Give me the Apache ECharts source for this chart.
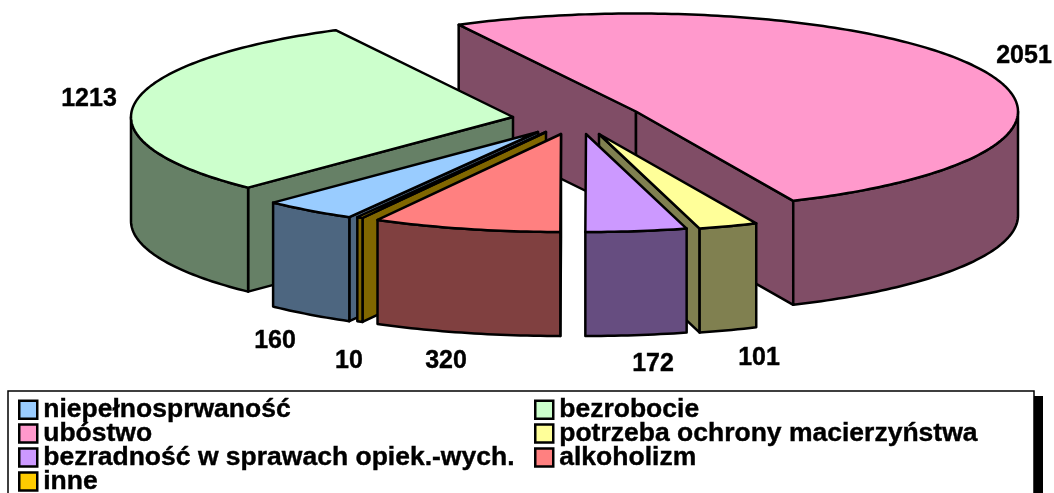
<!DOCTYPE html>
<html>
<head>
<meta charset="utf-8">
<style>html,body{margin:0;padding:0;background:#fff}#chart{width:1054px;height:493px}</style>
<script src="https://cdn.jsdelivr.net/npm/echarts@6/dist/echarts.min.js"></script>
</head>
<body>
<div id="chart"></div>
<script>
// kolejnosc jak w legendzie (zgodnie z ruchem wskazowek)
const categories = ['niepełnosprwaność', 'bezrobocie', 'ubóstwo', 'potrzeba ochrony macierzyństwa', 'bezradność w sprawach opiek.-wych.', 'alkoholizm', 'inne'];
const values = [160, 1213, 2051, 101, 172, 320, 10];
const topColors = ['#99ccff', '#ccffcc', '#ff99cc', '#ffff99', '#cc99ff', '#ff8080', '#ffcc00'];
const sideColors = ['#4d6680', '#668066', '#804d66', '#808050', '#664d80', '#804040', '#806600'];
// wierzcholek kazdego wycinka po rozsunieciu
const tips = [[538, 132], [513, 117], [636, 111.5], [599, 134], [586, 134], [561, 134], [546, 132]];
const labelPos = [[275, 341], [89, 99], [1024, 56], [759, 358], [653, 364], [446, 361], [349, 361]];
const drawOrder = [2, 1, 3, 0, 6, 4, 5];

const RX = 382, RY = 98, DEPTH = 104;
const START_DEG = 209.6; // tu zaczyna sie pierwszy wycinek

const total = values.reduce((a, b) => a + b, 0);
function sliceAngles(idx) {
    let a = START_DEG;
    for (let i = 0; i < idx; i++) a += values[i] / total * 360;
    let b = a + values[idx] / total * 360;
    return b > 360 ? [a - 360, b - 360] : [a, b];
}
function sinDeg(d) { return Math.sin(d * Math.PI / 180); }
function pt(tip, deg, dy) {
    let r = deg * Math.PI / 180;
    return [tip[0] + RX * Math.sin(r), tip[1] - RY * Math.cos(r) + (dy || 0)];
}
const outline = { stroke: '#000', lineWidth: 2.5, lineJoin: 'round' };

function face(points, fill) {
    return { type: 'polygon', shape: { points: points }, style: Object.assign({ fill: fill }, outline) };
}

function renderSlice(idx) {
    return function () {
        let ang = sliceAngles(idx), tip = tips[idx], children = [];
        let side = sideColors[idx];
        let a1 = pt(tip, ang[1]);
        // sciany przekroju - tylko te widoczne od przodu
        if (sinDeg(ang[0]) < 0) {
            children.push(face([tip, pt(tip, ang[0]), pt(tip, ang[0], DEPTH), [tip[0], tip[1] + DEPTH]], side));
        }
        if (sinDeg(ang[1]) > 0) {
            children.push(face([tip, a1, pt(tip, ang[1], DEPTH), [tip[0], tip[1] + DEPTH]], side));
        }
        // zewnetrzna sciana - przednia czesc luku
        let from = Math.max(ang[0], 90), to = Math.min(ang[1], 270);
        if (to > from) {
            let up = [], down = [];
            for (let d = from; d < to; d += 1) { up.push(pt(tip, d)); down.unshift(pt(tip, d, DEPTH)); }
            up.push(pt(tip, to)); down.unshift(pt(tip, to, DEPTH));
            children.push(face(up.concat(down), side));
        }
        // wierzch
        let top = [tip];
        for (let d = ang[0]; d < ang[1]; d += 1) top.push(pt(tip, d));
        top.push(a1);
        children.push(face(top, topColors[idx]));
        children.push({
            type: 'text',
            style: {
                x: labelPos[idx][0], y: labelPos[idx][1], text: String(values[idx]),
                font: 'bold 25px "Liberation Sans"', fill: '#000', align: 'center', verticalAlign: 'middle',
                stroke: '#000', lineWidth: 0.4
            }
        });
        return { type: 'group', children: children };
    };
}

const series = drawOrder.map(function (idx, order) {
    return {
        type: 'custom',
        name: categories[idx],
        coordinateSystem: 'none',
        z: 2 + order,
        silent: true,
        animation: false,
        itemStyle: { color: topColors[idx] },
        renderItem: renderSlice(idx),
        data: [[values[idx]]]
    };
});

function legendCol(names, left) {
    return {
        show: true, orient: 'vertical', left: left, top: 396, height: 200, padding: 0,
        itemWidth: 18, itemHeight: 18, itemGap: -3.5, selectedMode: false, icon: 'rect', z: 20,
        itemStyle: { borderColor: '#000', borderWidth: 2.5 },
        textStyle: {
            fontFamily: 'Liberation Sans', fontWeight: 'bold', fontSize: 26.5, color: '#000', lineHeight: 23.7,
            padding: [0, 0, 0, 1], textBorderColor: '#000', textBorderWidth: 0.4
        },
        data: names
    };
}

const chart = echarts.init(document.getElementById('chart'));
chart.setOption({
    animation: false,
    backgroundColor: '#fff',
    legend: [
        legendCol([categories[0], categories[2], categories[4], categories[6]], 18),
        legendCol([categories[1], categories[3], categories[5]], 534)
    ],
    graphic: [
        { type: 'rect', z: 0, silent: true, shape: { x: 1034, y: 396, width: 9, height: 110 }, style: { fill: '#000' } },
        { type: 'rect', z: 0, silent: true, shape: { x: 8, y: 391, width: 1026, height: 120 }, style: { fill: '#fff', stroke: '#000', lineWidth: 1.5 } }
    ],
    series: series
});
</script>
</body>
</html>
